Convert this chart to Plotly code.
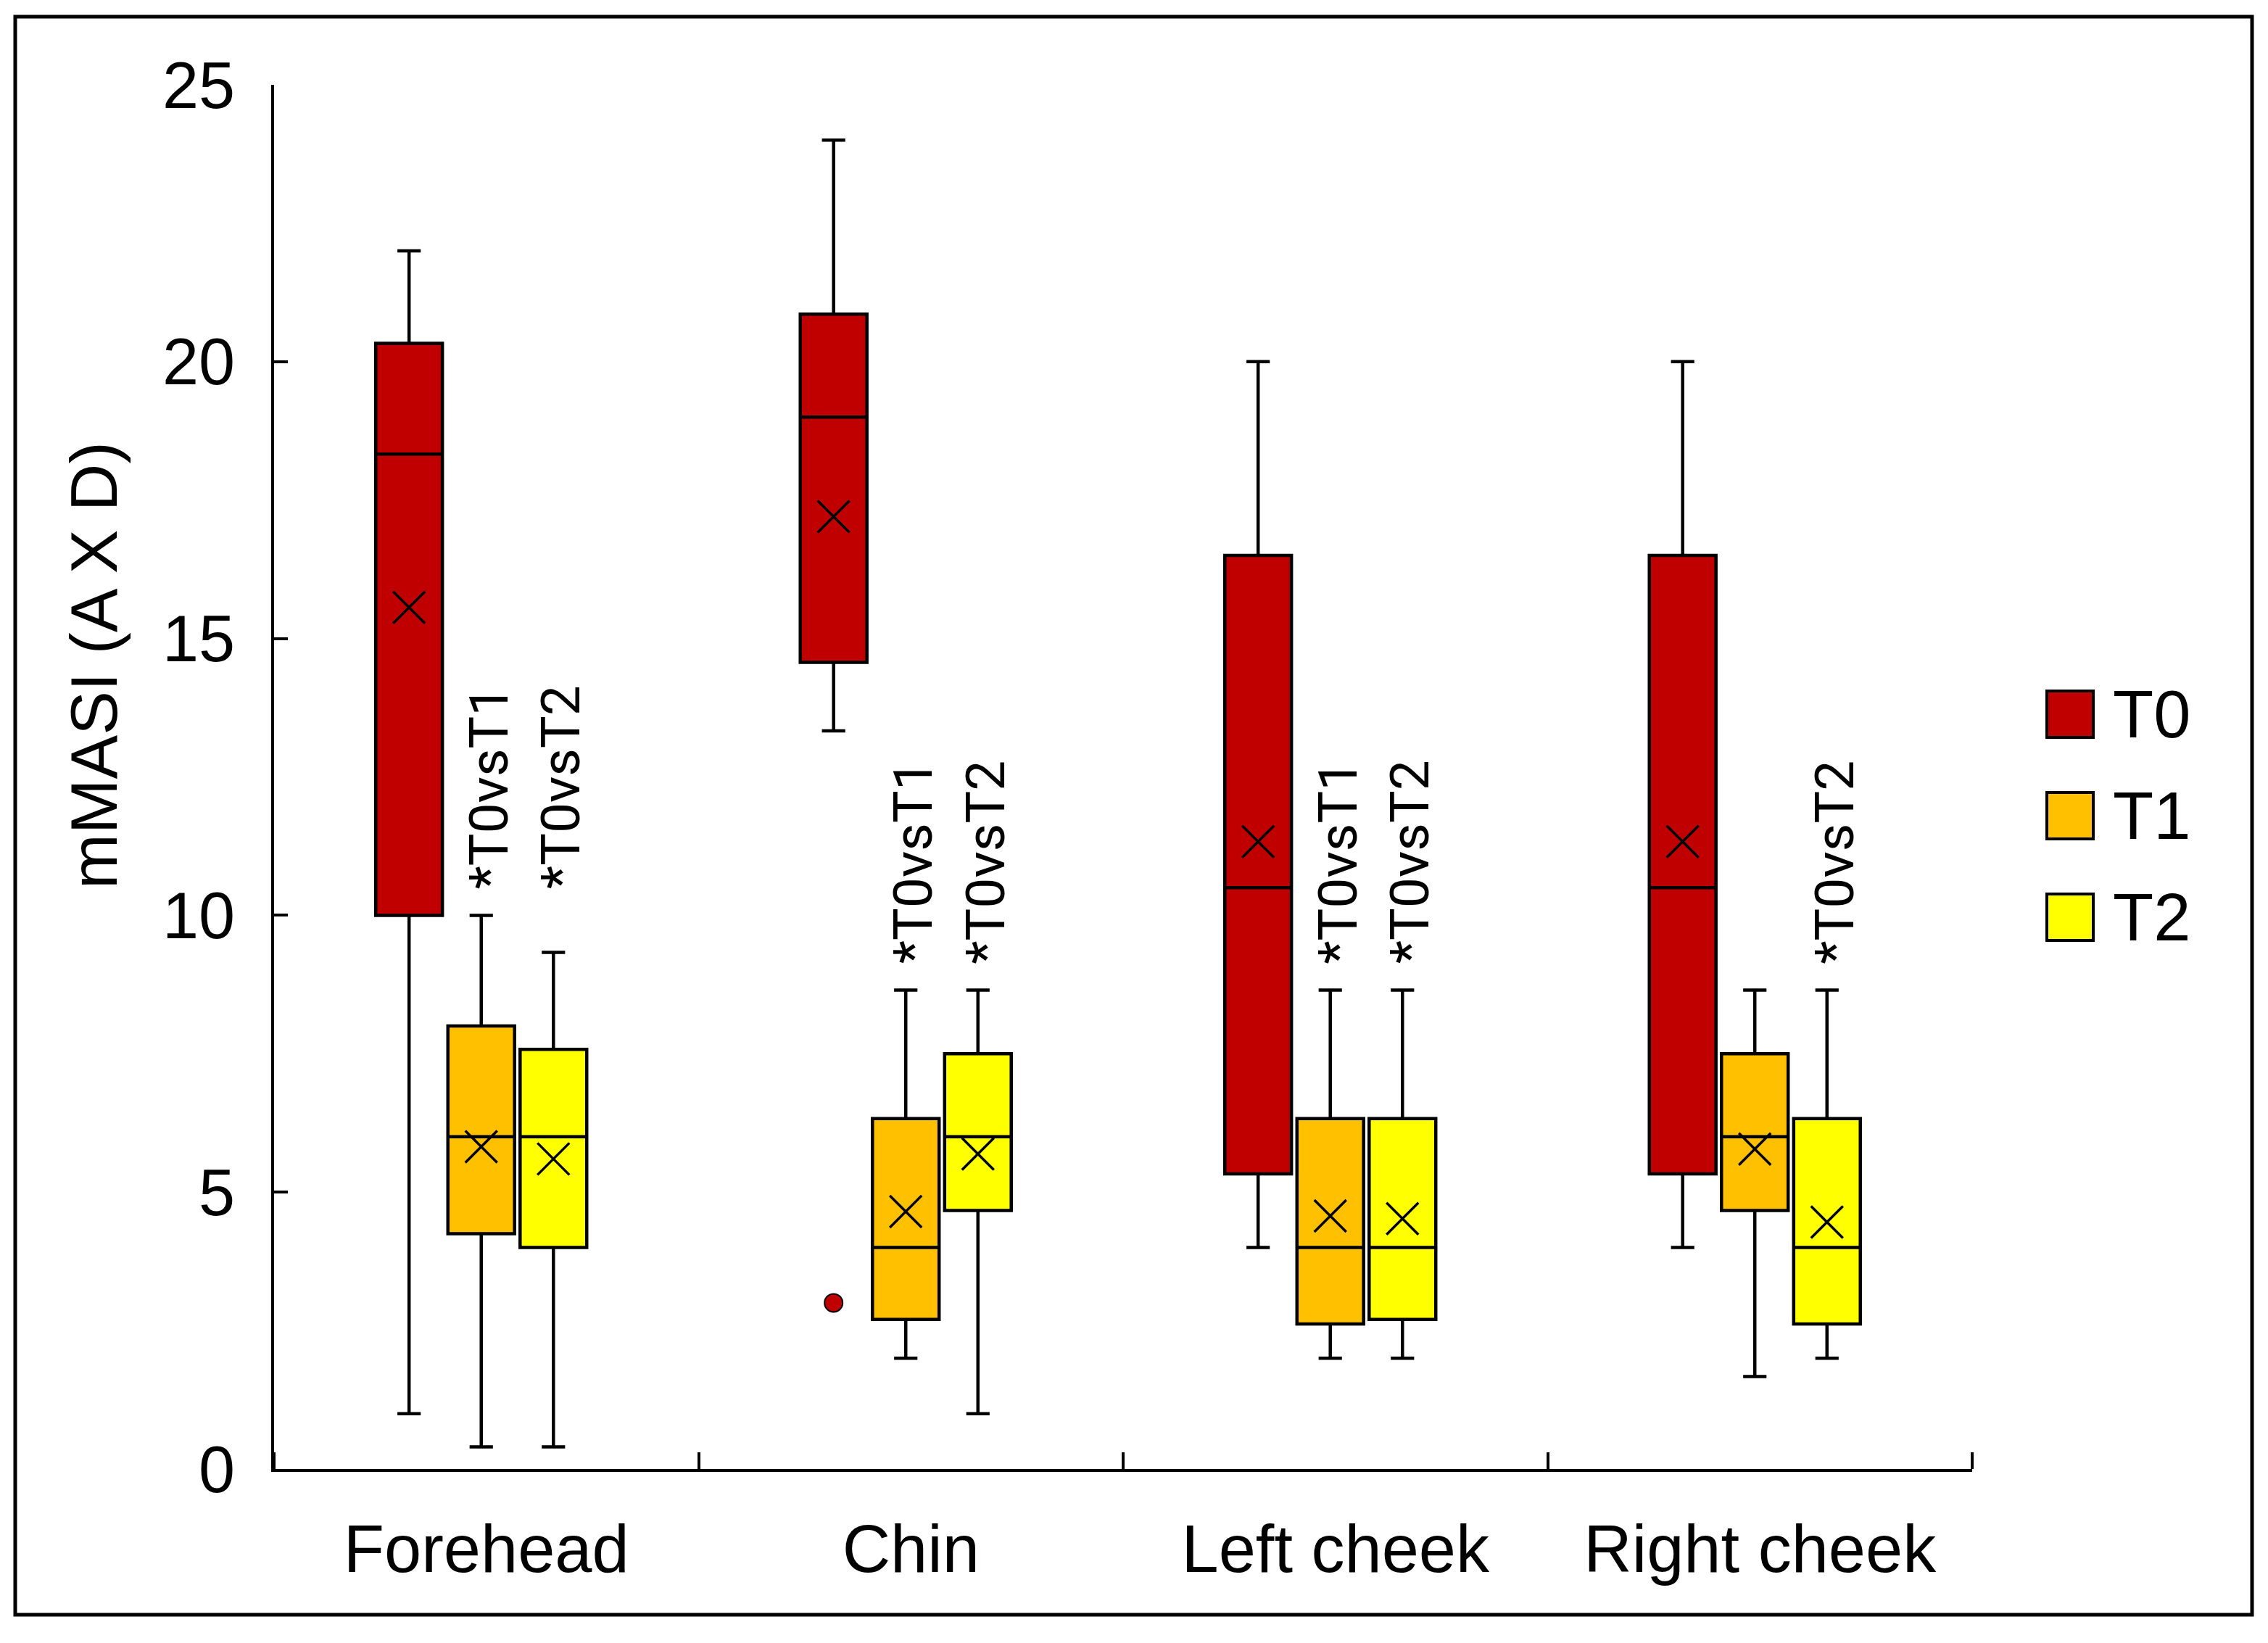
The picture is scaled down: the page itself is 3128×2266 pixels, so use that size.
import plotly.graph_objects as go

# ---------------- data ----------------
categories = ["Forehead", "Chin", "Left cheek", "Right cheek"]
series_names = ["T0", "T1", "T2"]

t0_low = [1.0, 13.33, 4.0, 4.0]
t0_q1 = [10.0, 14.57, 5.33, 5.33]
t0_median = [18.33, 19.0, 10.5, 10.5]
t0_q3 = [20.33, 20.86, 16.5, 16.5]
t0_high = [22.0, 24.0, 20.0, 20.0]
t0_mean = [15.56, 17.2, 11.33, 11.33]

t1_low = [0.4, 2.0, 2.0, 1.67]
t1_q1 = [4.25, 2.7, 2.62, 4.67]
t1_median = [6.0, 4.0, 4.0, 6.0]
t1_q3 = [8.0, 6.33, 6.33, 7.5]
t1_high = [10.0, 8.65, 8.65, 8.65]
t1_mean = [5.82, 4.65, 4.57, 5.78]

t2_low = [0.4, 1.0, 2.0, 2.0]
t2_q1 = [4.0, 4.67, 2.7, 2.62]
t2_median = [6.0, 6.0, 4.0, 4.0]
t2_q3 = [7.58, 7.5, 6.33, 6.33]
t2_high = [9.33, 8.65, 8.65, 8.65]
t2_mean = [5.6, 5.69, 4.52, 4.46]

t0_outlier_category = ["Chin"]
t0_outlier_value = [3.0]

t1_significance = ["*T0vsT1", "*T0vsT1", "*T0vsT1", ""]
t2_significance = ["*T0vsT2", "*T0vsT2", "*T0vsT2", "*T0vsT2"]

y_ticks = [0, 5, 10, 15, 20, 25]

# ---------------- styles / layout constants ----------------
W, H = 3128, 2266
PL, PR, PT, PB = 378, 2720, 117, 2026  # plot area in pixels
colors = ["#C00000", "#FFC000", "#FFFF00"]
offsets = [-0.182, -0.012, 0.158]
box_width = 0.157
FONT = "Arial, Liberation Sans, sans-serif"
NARROW = "Liberation Sans Narrow, Arial Narrow, Roboto, sans-serif"


def px(xp):
    return (xp - PL) / (PR - PL)


def py(yp):
    return (PB - yp) / (PB - PT)


stats = [
    (t0_low, t0_q1, t0_median, t0_q3, t0_high, t0_mean),
    (t1_low, t1_q1, t1_median, t1_q3, t1_high, t1_mean),
    (t2_low, t2_q1, t2_median, t2_q3, t2_high, t2_mean),
]

fig = go.Figure()

for s, (lo, q1, med, q3, hi, mean) in enumerate(stats):
    xs = [i + offsets[s] for i in range(len(categories))]
    fig.add_trace(go.Box(
        x=xs, q1=q1, median=med, q3=q3, lowerfence=lo, upperfence=hi,
        width=box_width, whiskerwidth=0.35,
        fillcolor=colors[s], line=dict(color="black", width=4.5),
        boxpoints=False, name=series_names[s], showlegend=False,
    ))
    fig.add_trace(go.Scatter(
        x=xs, y=mean, mode="markers", showlegend=False,
        marker=dict(symbol="x-thin", size=44, color="black",
                    line=dict(color="black", width=3.5)),
    ))

# outlier
fig.add_trace(go.Scatter(
    x=[categories.index(c) + offsets[0] for c in t0_outlier_category],
    y=t0_outlier_value, mode="markers", showlegend=False,
    marker=dict(symbol="circle", size=25, color=colors[0],
                line=dict(color="black", width=2)),
))

annotations = []
for s, labels in [(1, t1_significance), (2, t2_significance)]:
    for i, lab in enumerate(labels):
        if not lab:
            continue
        base = max(t1_high[i], t2_high[i])
        annotations.append(dict(
            x=i + offsets[s], y=base, xref="x", yref="y",
            text=lab, showarrow=False, textangle=-90,
            xanchor="center", yanchor="bottom", yshift=34, xshift=10,
            font=dict(family=NARROW, size=75, color="black"),
        ))

# y-axis title
annotations.append(dict(
    x=px(130), y=py(918), xref="paper", yref="paper",
    text="mMASI (A X D)", showarrow=False, textangle=-90,
    xanchor="center", yanchor="middle",
    font=dict(family=FONT, size=91, color="black"),
))

shapes = []
# outer frame
shapes.append(dict(type="rect", xref="paper", yref="paper",
                   x0=px(21), x1=px(3106), y0=py(2227), y1=py(23),
                   line=dict(color="black", width=5), fillcolor="rgba(0,0,0,0)"))

# legend (manual, large swatches)
leg_y = [985, 1125, 1265]
for s, name in enumerate(series_names):
    shapes.append(dict(type="rect", xref="paper", yref="paper",
                       x0=px(2823), x1=px(2887), y0=py(leg_y[s] + 32), y1=py(leg_y[s] - 32),
                       line=dict(color="black", width=4), fillcolor=colors[s]))
    annotations.append(dict(
        x=px(2912), y=py(leg_y[s]), xref="paper", yref="paper",
        text=name, showarrow=False, xanchor="left", yanchor="middle",
        font=dict(family=FONT, size=92, color="black"),
    ))

fig.update_layout(
    width=W, height=H,
    margin=dict(l=PL, r=W - PR, t=PT, b=H - PB, pad=0),
    paper_bgcolor="white", plot_bgcolor="white",
    font=dict(family=FONT, color="black"),
    showlegend=False,
    annotations=annotations, shapes=shapes,
    xaxis=dict(
        range=[-0.5, len(categories) - 0.5],
        tickmode="array", tickvals=list(range(len(categories))), ticktext=categories,
        ticks="", showgrid=False, zeroline=False,
        showline=True, linecolor="black", linewidth=4,
        tickfont=dict(family=FONT, size=92, color="black"),
        ticklabelstandoff=28,
        minor=dict(tickmode="array",
                   tickvals=[i - 0.5 for i in range(len(categories) + 1)],
                   ticks="inside", ticklen=23, tickwidth=4, tickcolor="black"),
        automargin=False,
    ),
    yaxis=dict(
        range=[0, 25], tickmode="array", tickvals=y_ticks,
        ticks="inside", ticklen=19, tickwidth=4, tickcolor="black",
        showgrid=False, zeroline=False,
        showline=True, linecolor="black", linewidth=4,
        tickfont=dict(family=FONT, size=90, color="black"),
        ticklabelstandoff=32,
        automargin=False,
    ),
)

fig.write_html("out.html", config={"displayModeBar": False},
               post_script="document.body.style.margin='0';document.body.style.overflow='hidden';")
